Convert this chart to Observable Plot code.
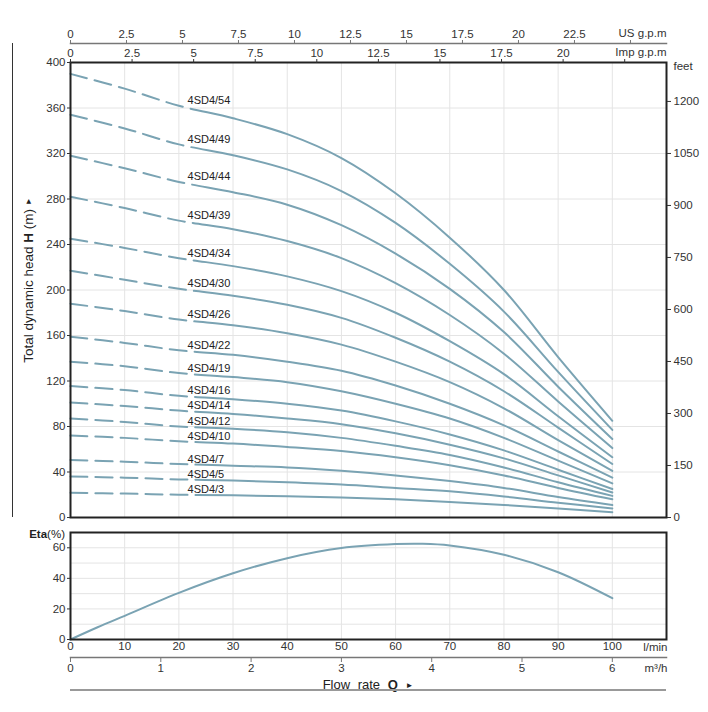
<!DOCTYPE html>
<html><head><meta charset="utf-8">
<script src="https://cdn.jsdelivr.net/npm/d3@7"></script>
<script src="https://cdn.jsdelivr.net/npm/@observablehq/plot@0.6"></script>
<style>
body{margin:0;background:#fff;font-family:"Liberation Sans",Arial,sans-serif;}
#wrap{position:relative;width:708px;height:712px;overflow:hidden;background:#fff;}
#wrap svg{position:absolute;left:0;}
.ytitle{position:absolute;left:28px;top:280px;transform:translate(-50%,-50%) rotate(-90deg);white-space:nowrap;font-size:13.5px;color:#222;}
.xtitle{position:absolute;left:368px;top:684px;transform:translate(-50%,-50%);white-space:nowrap;font-size:13px;color:#222;word-spacing:4px;}
.arrow{font-size:8px;vertical-align:middle;}
.etalabel{position:absolute;right:643px;top:534px;transform:translateY(-50%);font-size:11.5px;color:#222;white-space:nowrap;}
.leftline{position:absolute;left:12px;top:43px;width:0;height:474px;border-left:1.5px solid #333;}
.bottomline{position:absolute;left:70px;top:689px;width:596px;height:2px;background:#999;}
</style></head><body><div id="wrap"></div>
<script>
// ---- data ----
const flowLmin = [0, 10, 20, 30, 40, 50, 60, 70, 80, 90, 100];
const models = ["4SD4/54","4SD4/49","4SD4/44","4SD4/39","4SD4/34","4SD4/30","4SD4/26","4SD4/22","4SD4/19","4SD4/16","4SD4/14","4SD4/12","4SD4/10","4SD4/7","4SD4/5","4SD4/3"];
const head54 = [390, 377, 362, 351, 337, 316, 285, 246, 200, 141, 85];
const head49 = [354, 342, 328, 318.5, 306, 287, 259, 223, 181, 128, 77];
const head44 = [318, 307, 295, 286, 275, 257, 232, 201, 163, 115, 69];
const head39 = [282, 272, 261, 253.5, 243, 228, 206, 178, 144, 102, 61];
const head34 = [245, 237, 228, 221, 212, 199, 180, 155, 126, 89, 53];
const head30 = [217, 209, 201, 195, 187, 175.5, 158, 137, 111, 79, 47];
const head26 = [188, 181.5, 174, 169, 162, 152, 137, 119, 96, 68, 41];
const head22 = [159, 153.5, 147, 143, 137, 129, 116, 100, 81, 58, 35];
const head19 = [137, 133, 127, 123.5, 119, 111, 100, 87, 70, 50, 30];
const head16 = [115.5, 112, 107, 104, 100, 94, 84.5, 73, 59, 42, 25];
const head14 = [101, 98, 94, 91, 87, 82, 74, 64, 52, 37, 22];
const head12 = [87, 84, 80, 78, 75, 70, 63, 55, 44, 31, 19];
const head10 = [72, 70, 67, 65, 62, 58.5, 53, 46, 37, 26, 16];
const head7  = [50.5, 49, 47, 45.5, 44, 41, 37, 32, 26, 18, 11];
const head5  = [36, 35, 33.5, 32.5, 31, 29, 26, 23, 18.5, 13, 8];
const head3  = [21.7, 21, 20, 19.5, 18.7, 17.6, 16, 13.7, 11, 8, 4.7];
const headSeries = [head54, head49, head44, head39, head34, head30, head26, head22, head19, head16, head14, head12, head10, head7, head5, head3];

const etaFlow   = [0, 5, 10, 20, 30, 40, 50, 60, 65, 70, 80, 90, 100];
const etaValues = [0, 8, 15.5, 30.5, 43.3, 53.2, 59.8, 62.4, 62.6, 61.5, 55.4, 44, 27];

// tick values / labels
const usTicks   = [0, 2.5, 5, 7.5, 10, 12.5, 15, 17.5, 20, 22.5, 25];
const usLabels  = ["0","2.5","5","7.5","10","12.5","15","17.5","20","22.5",""];
const impTicks  = [0, 2.5, 5, 7.5, 10, 12.5, 15, 17.5, 20, 22.5];
const impLabels = ["0","2.5","5","7.5","10","12.5","15","17.5","20",""];
const headTicks = [0, 40, 80, 120, 160, 200, 240, 280, 320, 360, 400];
const headGrid  = [40, 80, 120, 160, 200, 240, 280, 320, 360];
const feetTicks = [0, 150, 300, 450, 600, 750, 900, 1050, 1200];
const etaTicks  = [0, 20, 40, 60];
const etaGrid   = [10, 20, 30, 40, 50, 60];
const lminTicks = [0, 10, 20, 30, 40, 50, 60, 70, 80, 90, 100];
const lminGrid  = [10, 20, 30, 40, 50, 60, 70, 80, 90, 100];
const m3hTicks  = [0, 1, 2, 3, 4, 5, 6];

// unit conversions (US scale as drawn on the chart)
const US_GPM_LMIN = 4.134, IMP_GPM_LMIN = 4.546, FT_M = 0.3048, M3H_LMIN = 1000 / 60;
const Q_MAX = 110, LABEL_Q = 21.6, LABEL_INDEX = 2;
// dashed start of each curve, then solid
const DASH = "17,8,17,8,17,8,17,8,17,8,3000";

// ---- build tables ----
const rows = [];
models.forEach((m, k) => flowLmin.forEach((q, i) => rows.push({model: m, q, h: headSeries[k][i]})));
const labelRows = models.map((m, k) => ({model: m, h: headSeries[k][LABEL_INDEX]}));
const etaRows = etaFlow.map((q, i) => ({q, eta: etaValues[i]}));

const usFmt = new Map(usTicks.map((v, i) => [v, usLabels[i]]));
const impPos = impTicks.map(v => v * IMP_GPM_LMIN);
const impFmt = new Map(impPos.map((p, i) => [p, impLabels[i]]));
const feetPos = feetTicks.map(f => f * FT_M);
const feetFmt = new Map(feetPos.map((p, i) => [p, String(feetTicks[i])]));

const LINE = "#7aa3b3", GRID = "#e4e4e4", FRAME = "#222";
const baseStyle = {background: "transparent", overflow: "visible", fontFamily: "'Liberation Sans', Arial, sans-serif", fontSize: "11.5px", color: "#333"};
const common = {width: 708, marginLeft: 70, marginRight: 42, style: baseStyle};

const wrap = document.getElementById("wrap");
function place(el, top) { el.style.top = top + "px"; el.style.left = "0px"; wrap.appendChild(el); }

// US g.p.m axis
const usAxis = Plot.plot({
  ...common, height: 44, marginTop: 43, marginBottom: 0,
  x: {domain: [0, Q_MAX / US_GPM_LMIN]},
  marks: [
    Plot.frame({anchor: "top", stroke: "#777", strokeWidth: 1.5}),
    Plot.axisX(usTicks, {anchor: "top", tickSize: 4, tickPadding: 2, label: null, stroke: "#777", tickFormat: d => usFmt.get(d)}),
    Plot.text(["US g.p.m"], {frameAnchor: "top-right", text: d => d, textAnchor: "end", lineAnchor: "middle", dy: -10.5, fill: "#333"})
  ]
});
place(usAxis, 0);

// head chart
const headChart = Plot.plot({
  ...common, height: 480, marginTop: 18, marginBottom: 7,
  x: {domain: [0, Q_MAX]},
  y: {domain: [0, 400]},
  marks: [
    Plot.gridX(lminGrid, {stroke: GRID, strokeOpacity: 1}),
    Plot.gridY(headGrid, {stroke: GRID, strokeOpacity: 1}),
    Plot.line(rows, {x: "q", y: "h", z: "model", stroke: LINE, strokeWidth: 2, strokeDasharray: DASH, curve: "catmull-rom"}),
    Plot.text(labelRows, {x: () => LABEL_Q, y: "h", text: "model", textAnchor: "start", lineAnchor: "bottom", dy: -1.5, fontSize: 11, fill: "#222"}),
    Plot.frame({stroke: FRAME, strokeWidth: 2}),
    Plot.axisY(headTicks, {anchor: "left", tickSize: 3, tickPadding: 2, label: null}),
    Plot.axisY(feetPos, {anchor: "right", tickSize: 4, tickPadding: 3, label: null, tickFormat: d => feetFmt.get(d)}),
    Plot.axisX(impPos, {anchor: "top", tickSize: 4, tickPadding: 2, label: null, tickFormat: d => impFmt.get(d)}),
    Plot.text(["Imp g.p.m"], {frameAnchor: "top-right", text: d => d, textAnchor: "end", lineAnchor: "middle", dy: -10.5, fill: "#333"}),
    Plot.text(["feet"], {frameAnchor: "top-right", text: d => d, textAnchor: "start", lineAnchor: "middle", dx: 7, dy: 4, fill: "#333"})
  ]
});
place(headChart, 44);

// efficiency chart
const etaChart = Plot.plot({
  ...common, height: 128, marginTop: 8, marginBottom: 13,
  x: {domain: [0, Q_MAX]},
  y: {domain: [0, 70]},
  marks: [
    Plot.gridX(lminGrid, {stroke: GRID, strokeOpacity: 1}),
    Plot.gridY(etaGrid, {stroke: GRID, strokeOpacity: 1}),
    Plot.line(etaRows, {x: "q", y: "eta", stroke: LINE, strokeWidth: 2, curve: "catmull-rom"}),
    Plot.frame({stroke: FRAME, strokeWidth: 2}),
    Plot.axisY(etaTicks, {anchor: "left", tickSize: 3, tickPadding: 2, label: null}),
    Plot.axisX(lminTicks, {anchor: "bottom", tickSize: 0, tickPadding: 2, label: null}),
    Plot.text(["l/min"], {frameAnchor: "bottom-right", text: d => d, textAnchor: "end", lineAnchor: "middle", dx: 1, dy: 8, fill: "#333"})
  ]
});
place(etaChart, 524);

// m3/h axis
const m3hAxis = Plot.plot({
  ...common, height: 45, marginTop: 0, marginBottom: 39,
  x: {domain: [0, Q_MAX / M3H_LMIN]},
  marks: [
    Plot.frame({anchor: "bottom", stroke: "#777", strokeWidth: 1.5}),
    Plot.axisX(m3hTicks, {anchor: "bottom", tickSize: 5, tickPadding: 1, label: null, stroke: "#777"}),
    Plot.text(["m³/h"], {frameAnchor: "bottom-right", text: d => d, textAnchor: "end", lineAnchor: "middle", dx: 1, dy: 11, fill: "#333"})
  ]
});
place(m3hAxis, 651);

// html titles
wrap.insertAdjacentHTML("beforeend",
  '<div class="leftline"></div>' +
  '<div class="ytitle">Total dynamic head <b>H</b> (m) <span class="arrow">►</span></div>' +
  '<div class="etalabel"><b>Eta</b>(%)</div>' +
  '<div class="xtitle">Flow rate <b>Q</b> <span class="arrow">►</span></div>' +
  '<div class="bottomline"></div>');
</script></body></html>
